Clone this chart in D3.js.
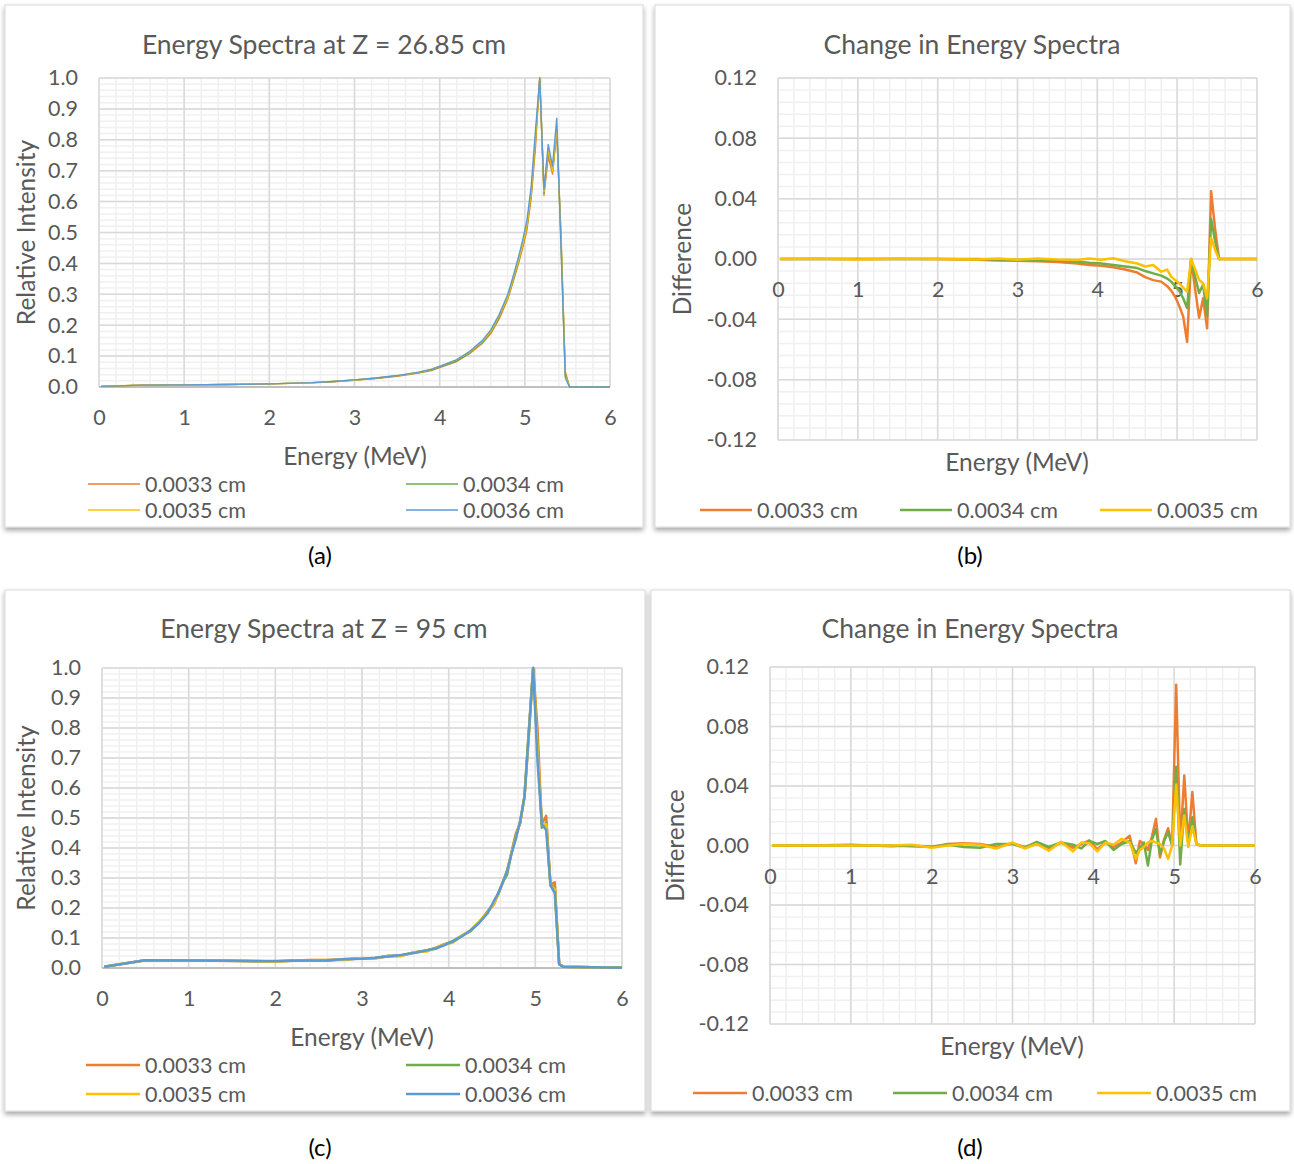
<!DOCTYPE html>
<html>
<head>
<meta charset="utf-8">
<script src="https://cdn.jsdelivr.net/npm/d3@7"></script>
<style>
  body { margin: 0; background: #fff; }
  svg text { font-family: Lato, "Open Sans", sans-serif; fill: #595959; }
</style>
</head>
<body>
<svg id="fig" width="1294" height="1164"></svg>
<script>
// ---- data: Z = 26.85 cm (panels a, b) ----
const energyA = [0.025, 0.5, 1, 1.5, 2, 2.5, 2.75, 3, 3.25, 3.5, 3.75, 3.9, 4.05, 4.2, 4.35, 4.5, 4.6, 4.7, 4.8,
  4.875, 4.925, 4.975, 5.025, 5.075, 5.125, 5.175, 5.225, 5.275, 5.325, 5.375, 5.425, 5.475, 5.525, 6];
const orangeA = [0.002, 0.006, 0.007, 0.008, 0.010, 0.0135, 0.017, 0.0218, 0.0275, 0.035, 0.045, 0.053, 0.0675, 0.0825, 0.108, 0.141, 0.173, 0.221, 0.285,
  0.352, 0.399, 0.450, 0.509, 0.612, 0.775, 1.000, 0.620, 0.746, 0.689, 0.824, 0.495, 0.050, 0, 0];
const greenA = [0.002, 0.006, 0.007, 0.008, 0.010, 0.014, 0.0177, 0.0225, 0.0282, 0.036, 0.0462, 0.0545, 0.069, 0.084, 0.110, 0.144, 0.177, 0.2255, 0.289,
  0.357, 0.405, 0.457, 0.519, 0.624, 0.7975, 1.000, 0.628, 0.7625, 0.698, 0.832, 0.4765, 0.042, 0, 0];
const yellowA = [0.002, 0.0064, 0.0067, 0.0083, 0.010, 0.0136, 0.0183, 0.0225, 0.0294, 0.0367, 0.0473, 0.0573, 0.0715, 0.0885, 0.1135, 0.147, 0.180, 0.231, 0.2916,
  0.363, 0.4083, 0.461, 0.524, 0.631, 0.8083, 1.000, 0.633, 0.771, 0.699, 0.844, 0.464, 0.036, 0, 0];
const blueA = [0.002, 0.006, 0.007, 0.008, 0.010, 0.014, 0.018, 0.023, 0.029, 0.037, 0.048, 0.057, 0.072, 0.088, 0.115, 0.150, 0.185, 0.235, 0.300,
  0.370, 0.420, 0.475, 0.540, 0.650, 0.830, 1.000, 0.640, 0.785, 0.715, 0.870, 0.450, 0.030, 0, 0];

const diffOrangeB = [0, 0, 0, 0, 0, -0.0005, -0.001, -0.0012, -0.0015, -0.002, -0.003, -0.004, -0.0045, -0.0055, -0.007, -0.009, -0.012, -0.014, -0.015,
  -0.018, -0.021, -0.025, -0.031, -0.038, -0.055, 0, -0.02, -0.039, -0.026, -0.046, 0.045, 0.02, 0, 0];
const diffGreenB = [0, 0, 0, 0, 0, 0, -0.0003, -0.0005, -0.0008, -0.001, -0.0018, -0.0025, -0.003, -0.004, -0.005, -0.006, -0.008, -0.0095, -0.011,
  -0.013, -0.015, -0.018, -0.021, -0.026, -0.0325, 0, -0.012, -0.0225, -0.017, -0.038, 0.0265, 0.012, 0, 0];
const diffYellowB = [0, 0.0004, -0.0003, 0.0003, 0, -0.0004, 0.0003, -0.0005, 0.0004, -0.0003, -0.0007, 0.0003, -0.0005, 0.0005, -0.0015, -0.003, -0.005, -0.004, -0.0084,
  -0.007, -0.0117, -0.014, -0.016, -0.019, -0.0217, 0, -0.007, -0.014, -0.016, -0.026, 0.014, 0.006, 0, 0];

// ---- data: Z = 95 cm (panels c, d) ----
const energyC = [0.025, 0.5, 1, 1.5, 1.75, 2, 2.2, 2.4, 2.6, 2.8, 3, 3.15, 3.3, 3.45, 3.6, 3.75, 3.85, 3.95, 4.05, 4.15, 4.25,
  4.35, 4.45, 4.525, 4.575, 4.625, 4.675, 4.725, 4.775, 4.825, 4.875, 4.925, 4.975, 5.025, 5.075, 5.125, 5.175, 5.225, 5.275, 5.325, 6];
const orangeC = [0.004, 0.026, 0.0255, 0.0235, 0.023, 0.022, 0.025, 0.0265, 0.027, 0.028, 0.0325, 0.033, 0.039, 0.041, 0.052, 0.0575, 0.067, 0.0795, 0.0865, 0.107, 0.124,
  0.152, 0.1895, 0.213, 0.253, 0.286, 0.322, 0.386, 0.448, 0.482, 0.574, 0.7916, 1.0, 0.798, 0.480, 0.507, 0.277, 0.286, 0.013, 0.004, 0.001];
const greenC = [0.004, 0.026, 0.025, 0.024, 0.0225, 0.0222, 0.0245, 0.024, 0.0245, 0.030, 0.032, 0.0325, 0.0405, 0.042, 0.052, 0.0595, 0.064, 0.079, 0.090, 0.108, 0.122,
  0.151, 0.186, 0.220, 0.248, 0.287, 0.3116, 0.384, 0.441, 0.484, 0.573, 0.789, 1.0, 0.743, 0.4673, 0.4846, 0.277, 0.269, 0.013, 0.004, 0.001];
const yellowC = [0.004, 0.026, 0.025, 0.024, 0.0235, 0.0215, 0.024, 0.026, 0.0265, 0.027, 0.033, 0.032, 0.039, 0.0395, 0.0525, 0.055, 0.068, 0.0775, 0.085, 0.107, 0.1255,
  0.1545, 0.185, 0.216, 0.247, 0.284, 0.327, 0.383, 0.432, 0.491, 0.568, 0.771, 1.0, 0.731, 0.480, 0.4802, 0.274, 0.263, 0.013, 0.004, 0.001];
const blueC = [0.004, 0.026, 0.025, 0.024, 0.023, 0.023, 0.024, 0.025, 0.026, 0.029, 0.031, 0.034, 0.038, 0.043, 0.050, 0.059, 0.066, 0.076, 0.089, 0.105, 0.125,
  0.150, 0.183, 0.225, 0.250, 0.285, 0.325, 0.380, 0.430, 0.490, 0.570, 0.780, 1.000, 0.690, 0.480, 0.460, 0.275, 0.250, 0.012, 0.004, 0.001];

const diffOrangeD = [0, 0, 0.0005, -0.0005, 0, -0.001, 0.001, 0.0015, 0.001, -0.001, 0.0015, -0.001, 0.001, -0.002, 0.002, -0.0015, 0.001, 0.0035, -0.0025, 0.002, -0.001,
  0.002, 0.0065, -0.012, 0.003, 0.001, -0.003, 0.006, 0.018, -0.008, 0.004, 0.0116, 0, 0.108, 0, 0.047, 0.002, 0.036, 0.001, 0, 0];
const diffGreenD = [0, 0, 0, 0, -0.0005, -0.0008, 0.0005, -0.001, -0.0015, 0.001, 0.001, -0.0015, 0.0025, -0.001, 0.002, 0.0005, -0.002, 0.003, 0.001, 0.003, -0.003,
  0.001, 0.003, -0.005, -0.002, 0.002, -0.0134, 0.004, 0.011, -0.006, 0.003, 0.009, 0, 0.053, -0.0127, 0.0246, 0.002, 0.019, 0.001, 0, 0];
const diffYellowD = [0, 0, 0, 0, 0.0005, -0.0015, 0, 0.001, 0.0005, -0.002, 0.002, -0.002, 0.001, -0.0035, 0.0025, -0.004, 0.002, 0.0015, -0.004, 0.002, 0.0005,
  0.0045, 0.002, -0.009, -0.003, -0.001, 0.002, 0.003, 0.002, 0.001, -0.002, -0.009, 0, 0.041, 0, 0.0202, -0.001, 0.013, 0.001, 0, 0];

// ---- labels / ticks ----
const seriesNames = ["0.0033 cm", "0.0034 cm", "0.0035 cm", "0.0036 cm"];
const seriesColors = ["#ED7D31", "#70AD47", "#FFC000", "#5B9BD5"];
const xTicks = [0, 1, 2, 3, 4, 5, 6];
const intensityTicks = [0, 0.1, 0.2, 0.3, 0.4, 0.5, 0.6, 0.7, 0.8, 0.9, 1.0];
const diffTicks = [-0.12, -0.08, -0.04, 0, 0.04, 0.08, 0.12];

const svg = d3.select("#fig");

const defs = svg.append("defs");
const shadow = defs.append("filter").attr("id", "shadow")
  .attr("x", "-5%").attr("y", "-5%").attr("width", "110%").attr("height", "112%");
shadow.append("feDropShadow").attr("dx", 0).attr("dy", 3).attr("stdDeviation", 2.5)
  .attr("flood-color", "#000").attr("flood-opacity", 0.35);

const panels = [
  {
    frame: [5, 5, 638, 522], plot: [99, 610, 78, 387],
    title: "Energy Spectra at Z = 26.85 cm", titleX: 324, titleY: 54,
    yDomain: [0, 1], yTicks: intensityTicks, yMinor: 0.02, fmt: d => d.toFixed(1),
    yName: "Relative Intensity", yNameX: 35, xNameX: 355, xNameY: 465,
    x: energyA, ys: [orangeA, greenA, yellowA, blueA], width: 1.4,
    legend: [[88, 484], [406, 484], [88, 510], [406, 510]], legendLen: 52,
    caption: "(a)", capX: 320, capY: 564
  },
  {
    frame: [655, 5, 635, 522], plot: [778, 1257, 78, 440],
    title: "Change in Energy Spectra", titleX: 972, titleY: 54,
    yDomain: [-0.12, 0.12], yTicks: diffTicks, yMinor: 0.008, fmt: d => d.toFixed(2),
    yName: "Difference", yNameX: 691, xNameX: 1017, xNameY: 471,
    x: energyA, ys: [diffOrangeB, diffGreenB, diffYellowB], width: 2.5,
    legend: [[700, 510], [900, 510], [1100, 510]], legendLen: 52,
    caption: "(b)", capX: 970, capY: 564
  },
  {
    frame: [5, 590, 640, 521], plot: [102, 622, 668, 968],
    title: "Energy Spectra at Z = 95 cm", titleX: 324, titleY: 638,
    yDomain: [0, 1], yTicks: intensityTicks, yMinor: 0.02, fmt: d => d.toFixed(1),
    yName: "Relative Intensity", yNameX: 35, xNameX: 362, xNameY: 1046,
    x: energyC, ys: [orangeC, greenC, yellowC, blueC], width: 2.5,
    legend: [[86, 1065], [406, 1065], [86, 1094], [406, 1094]], legendLen: 54,
    caption: "(c)", capX: 320, capY: 1156
  },
  {
    frame: [651, 590, 639, 521], plot: [770, 1255, 667, 1024],
    title: "Change in Energy Spectra", titleX: 970, titleY: 638,
    yDomain: [-0.12, 0.12], yTicks: diffTicks, yMinor: 0.008, fmt: d => d.toFixed(2),
    yName: "Difference", yNameX: 684, xNameX: 1012, xNameY: 1055,
    x: energyC, ys: [diffOrangeD, diffGreenD, diffYellowD], width: 2.5,
    legend: [[693, 1093], [893, 1093], [1097, 1093]], legendLen: 54,
    caption: "(d)", capX: 970, capY: 1156
  }
];

panels.forEach(p => {
  const [fx, fy, fw, fh] = p.frame;
  const [left, right, top, bottom] = p.plot;
  const g = svg.append("g");

  g.append("rect").attr("x", fx).attr("y", fy).attr("width", fw).attr("height", fh)
    .attr("fill", "#fff").attr("stroke", "#d9d9d9").attr("filter", "url(#shadow)");

  const x = d3.scaleLinear().domain([0, 6]).range([left, right]);
  const y = d3.scaleLinear().domain(p.yDomain).range([bottom, top]);

  // minor grid
  const xMinor = d3.range(0, 6.0001, 0.2);
  const yMinor = d3.range(p.yDomain[0], p.yDomain[1] + 1e-9, p.yMinor);
  g.append("g").selectAll("line").data(xMinor).join("line")
    .attr("x1", d => x(d)).attr("x2", d => x(d)).attr("y1", top).attr("y2", bottom)
    .attr("stroke", "#f0f0f0").attr("stroke-width", 1.5);
  g.append("g").selectAll("line").data(yMinor).join("line")
    .attr("x1", left).attr("x2", right).attr("y1", d => y(d)).attr("y2", d => y(d))
    .attr("stroke", "#f0f0f0").attr("stroke-width", 1.5);

  // major grid
  g.append("g").selectAll("line").data(xTicks).join("line")
    .attr("x1", d => x(d)).attr("x2", d => x(d)).attr("y1", top).attr("y2", bottom)
    .attr("stroke", "#d9d9d9").attr("stroke-width", 1.5);
  g.append("g").selectAll("line").data(p.yTicks).join("line")
    .attr("x1", left).attr("x2", right).attr("y1", d => y(d)).attr("y2", d => y(d))
    .attr("stroke", "#d9d9d9").attr("stroke-width", 1.5);

  if (p.yDomain[0] === 0) {
    g.append("line").attr("x1", left).attr("x2", right).attr("y1", bottom).attr("y2", bottom)
      .attr("stroke", "#bfbfbf").attr("stroke-width", 2);
  }

  // axes (labels only); x labels sit on the zero line
  const ax = g.append("g").attr("transform", `translate(0,${y(0)})`)
    .call(d3.axisBottom(x).tickValues(xTicks).tickSize(0).tickPadding(23).tickFormat(d3.format("d")));
  const ay = g.append("g").attr("transform", `translate(${left},0)`)
    .call(d3.axisLeft(y).tickValues(p.yTicks).tickSize(0).tickPadding(21).tickFormat(p.fmt));
  [ax, ay].forEach(a => {
    a.select(".domain").remove();
    a.attr("font-family", null).attr("font-size", 21.5);
    a.selectAll("text").attr("fill", "#595959");
  });

  // series
  const line = d3.line().x(d => x(d[0])).y(d => y(d[1]));
  p.ys.forEach((vals, i) => {
    g.append("path")
      .datum(p.x.map((e, k) => [e, vals[k]]))
      .attr("d", line)
      .attr("fill", "none")
      .attr("stroke", seriesColors[i])
      .attr("stroke-width", p.width)
      .attr("stroke-linejoin", "round");
  });

  // titles
  g.append("text").attr("x", p.titleX).attr("y", p.titleY).attr("text-anchor", "middle")
    .style("font-size", "26.5px").text(p.title);
  g.append("text").attr("x", p.xNameX).attr("y", p.xNameY).attr("text-anchor", "middle")
    .style("font-size", "24.5px").text("Energy (MeV)");
  g.append("text").attr("transform", `translate(${p.yNameX},${(top + bottom) / 2}) rotate(-90)`)
    .attr("text-anchor", "middle").style("font-size", "24.5px").text(p.yName);

  // legend
  p.legend.forEach(([lx, ly], i) => {
    g.append("line").attr("x1", lx).attr("x2", lx + p.legendLen).attr("y1", ly).attr("y2", ly)
      .attr("stroke", seriesColors[i]).attr("stroke-width", p.width);
    g.append("text").attr("x", lx + p.legendLen + 5).attr("y", ly + 7.5)
      .style("font-size", "21.5px").text(seriesNames[i]);
  });

  svg.append("text").attr("x", p.capX).attr("y", p.capY).attr("text-anchor", "middle")
    .style("font-size", "24px").style("fill", "#000").text(p.caption);
});
</script>
</body>
</html>
